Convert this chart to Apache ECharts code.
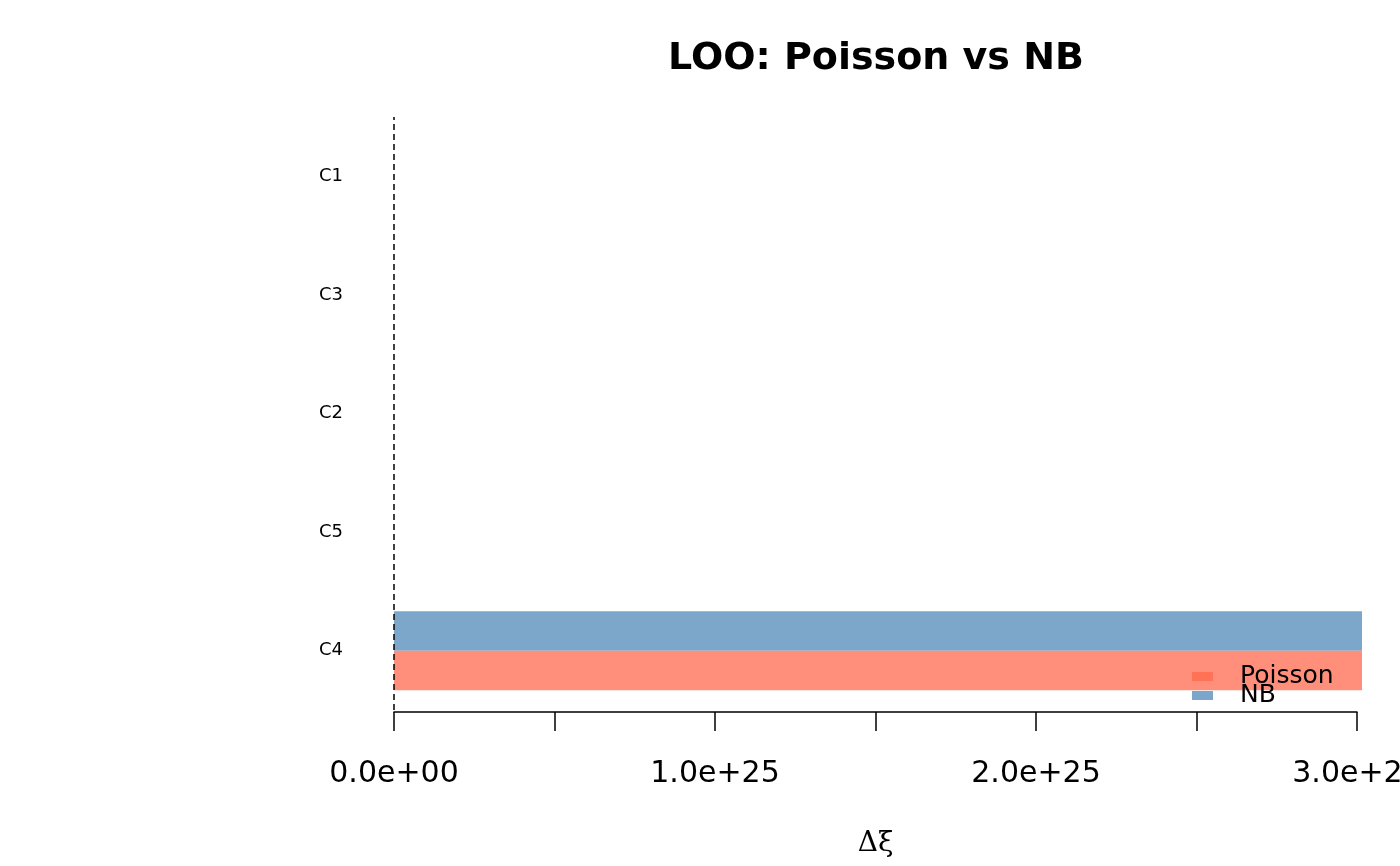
<!DOCTYPE html>
<html>
<head>
<meta charset="utf-8">
<script src="https://cdn.jsdelivr.net/npm/echarts@6/dist/echarts.min.js"></script>
<style>html,body{margin:0;padding:0;background:#fff}#c{width:1400px;height:866px}</style>
</head>
<body>
<div id="c"></div>
<script>
// Data (bottom to top)
const categories = ['C4', 'C5', 'C2', 'C3', 'C1'];
const poissonValues = [3.5e25, 0, 0, 0, 0];
const nbValues = [3.5e25, 0, 0, 0, 0];
const seriesNames = ['Poisson', 'NB'];
const tickLabels = ['0.0e+00', '1.0e+25', '2.0e+25', '3.0e+25'];

function fmtExp(v) {
  const s = Number(v).toExponential(1);
  const m = s.match(/^(-?[\d.]+)e([+-])(\d+)$/);
  if (!m) return s;
  let e = m[3]; if (e.length < 2) e = '0' + e;
  return m[1] + 'e' + m[2] + e;
}

const chart = echarts.init(document.getElementById('c'), null, {renderer: 'canvas'});
const font = 'DejaVu Sans';
const option = {
  backgroundColor: '#ffffff',
  animation: false,
  title: {
    text: 'LOO: Poisson vs NB',
    left: 871, top: 35, textAlign: 'center',
    textStyle: {fontFamily: font, fontWeight: 'bold', fontSize: 38, color: '#000'}
  },
  legend: {
    orient: 'vertical', left: 1187, top: 659, itemWidth: 21, itemHeight: 9, itemGap: -6,
    icon: 'rect',
    textStyle: {fontFamily: font, fontSize: 25, color: '#000', lineHeight: 18, padding: [0, 0, 0, 22]},
    data: [
      {name: seriesNames[0], itemStyle: {color: '#FF7256'}},
      {name: seriesNames[1], itemStyle: {color: '#7BA6CB'}}
    ]
  },
  grid: [
    {left: 394, top: 117, width: 968, height: 593, containLabel: false, outerBoundsMode: 'none'},
    {left: 394, top: 117, width: 963, height: 595, containLabel: false, outerBoundsMode: 'none'}
  ],
  xAxis: [
    {type: 'value', gridIndex: 0, min: 0, max: 3.0156e25, show: false},
    {type: 'value', gridIndex: 1, min: 0, max: 3.0e25, interval: 0.5e25,
     axisLine: {show: true, lineStyle: {color: '#000', width: 1.5}},
     axisTick: {show: true, length: 19, lineStyle: {color: '#000', width: 1.5}},
     splitLine: {show: false},
     axisLabel: {margin: 47, fontFamily: font, fontSize: 30, color: '#000', hideOverlap: false,
       formatter: function (v) { const l = fmtExp(v); return tickLabels.indexOf(l) >= 0 ? l : ''; }},
     name: '\u0394\u03BE', nameLocation: 'middle', nameGap: 118,
     nameTextStyle: {fontFamily: 'DejaVu Serif', fontSize: 28, color: '#000'}
    }
  ],
  yAxis: [
    {type: 'category', gridIndex: 0, data: categories,
     axisLine: {show: false}, axisTick: {show: false}, splitLine: {show: false},
     axisLabel: {margin: 51, fontFamily: font, fontSize: 18, color: '#000'}},
    {type: 'value', gridIndex: 1, show: false}
  ],
  series: [
    {name: seriesNames[1], type: 'bar', xAxisIndex: 0, yAxisIndex: 0, data: nbValues,
     barGap: '0%', barCategoryGap: '33.33%', clip: true,
     itemStyle: {color: '#7CA6CA'},
     markLine: {symbol: 'none', silent: true, label: {show: false},
       lineStyle: {color: '#000', type: [6, 4], width: 1.5},
       data: [{xAxis: 0}]}},
    {name: seriesNames[0], type: 'bar', xAxisIndex: 0, yAxisIndex: 0, data: poissonValues,
     barGap: '0%', barCategoryGap: '33.33%', clip: true,
     itemStyle: {color: '#FF8E7B'}}
  ]
};
chart.setOption(option);
</script>
</body>
</html>
